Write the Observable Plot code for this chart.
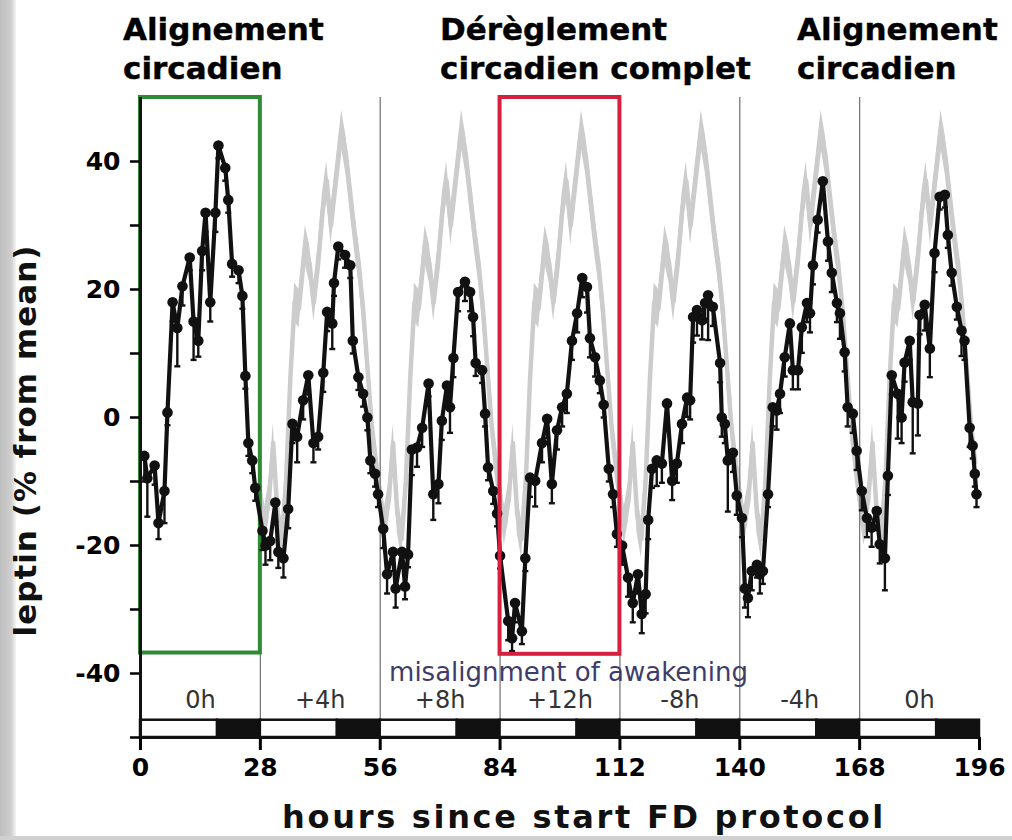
<!DOCTYPE html>
<html>
<head>
<meta charset="utf-8">
<script src="https://cdn.jsdelivr.net/npm/d3@7"></script>
<script src="https://cdn.jsdelivr.net/npm/@observablehq/plot@0.6"></script>
<style>
  html, body { margin: 0; padding: 0; background: #fff; }
  #wrap { position: relative; width: 1012px; height: 840px; overflow: hidden; background: #fff; }
  #chart { position: absolute; left: 0; top: 0; }
  .title { position: absolute; font-family: "DejaVu Sans", Verdana, sans-serif; font-weight: bold; font-size: 31px; line-height: 39px; color: #000; white-space: nowrap; -webkit-text-stroke: 0.4px #000; }
  #xlabel { position: absolute; left: 282px; top: 801px; font-family: "DejaVu Sans", sans-serif; font-weight: bold; font-size: 32px; line-height: 32px; letter-spacing: 2.7px; white-space: nowrap; color: #111; }
  #ylabel { position: absolute; width: 500px; left: -225px; top: 425px; text-align: center; font-family: "DejaVu Sans", sans-serif; font-weight: bold; font-size: 31px; line-height: 31px; letter-spacing: 1px; white-space: nowrap; color: #111; transform: rotate(-90deg); transform-origin: 50% 50%; }
  #leftstrip { position: absolute; left: 0; top: 0; width: 16px; height: 840px; background: linear-gradient(to right, #bdbdbd, #cfcfcf 70%, #f4f4f4); }
  #bottomstrip { position: absolute; left: 0; top: 836px; width: 1012px; height: 4px; background: #d0d0d0; }
</style>
</head>
<body>
<div id="wrap">
  <div id="leftstrip"></div>
  <div id="bottomstrip"></div>
  <div id="chart"></div>
  <div class="title" style="left:123px; top:10px;">Alignement<br>circadien</div>
  <div class="title" style="left:440px; top:10px;">Dérèglement<br>circadien complet</div>
  <div class="title" style="left:797px; top:10px;">Alignement<br>circadien</div>
  <div id="ylabel">leptin (% from mean)</div>
  <div id="xlabel">hours since start FD protocol</div>
</div>
<script>
// ---- data ----
const cycleStarts = [0, 28, 56, 84, 112, 140, 168];
const periodLabels = ["0h", "+4h", "+8h", "+12h", "-8h", "-4h", "0h"];
const lightsOffHour = 18;          // dark part of each 28 h cycle starts here
const separators = [28, 56, 84, 112, 140, 168];
const xTicks = [0, 28, 56, 84, 112, 140, 168, 196];
const yTicks = [-50, -40, -30, -20, -10, 0, 10, 20, 30, 40];
const yTickLabels = [-40, -20, 0, 20, 40];

// leptin, black series (hours since start, % from mean, SEM)
const hours = [
  0.9, 1.6, 3.3, 4.2, 5.6, 6.3, 7.5, 8.6, 9.8, 11.5, 12.4, 13.5, 14.4, 15.2, 16.3, 17.5, 18.2, 19.8, 20.5, 21.4, 22.9, 23.8, 24.5, 25.2, 26.1, 26.8,
  28.5, 29.2, 30.3, 31.5, 32.2, 33.4, 34.5, 35.5, 36.6, 38.0, 39.2, 40.4, 41.5, 42.7, 43.6, 44.8, 45.2, 46.2, 47.8, 49.0, 49.6, 50.9, 52.0, 53.0, 53.7, 54.8, 55.5,
  56.7, 57.6, 59.0, 59.6, 61.1, 61.8, 62.5, 63.4, 64.6, 65.8, 67.3, 68.4, 69.6, 70.4, 71.6, 72.3, 73.1, 74.2, 75.8, 77.0, 77.7, 78.3, 79.8, 80.5, 81.2, 82.4, 83.3,
  84.0, 85.9, 86.8, 87.5, 89.1, 89.9, 91.0, 92.2, 93.8, 95.0, 96.1, 97.3, 98.5, 99.6, 100.8, 102.0, 103.2, 104.3, 105.0, 106.2, 107.3, 108.2, 109.4, 110.4, 111.3,
  112.5, 113.9, 115.0, 116.2, 117.1, 118.0, 118.6, 119.5, 120.6, 121.8, 123.0, 124.2, 125.3, 126.5, 127.7, 128.4, 129.1, 130.0, 131.2, 131.9, 132.6, 133.7, 135.4, 135.8, 136.5, 137.2, 138.4, 139.3, 140.5,
  141.2, 141.9, 142.8, 144.0, 144.7, 145.4, 146.6, 147.7, 148.6, 149.4, 150.5, 151.7, 152.4, 153.6, 154.5, 155.7, 156.4, 157.1, 158.2, 159.4, 160.6, 161.5, 162.7, 163.4, 164.5, 165.2, 166.4, 167.3,
  168.5, 169.7, 170.8, 172.0, 172.7, 173.9, 174.6, 175.5, 176.9, 177.8, 178.5, 179.7, 180.4, 181.6, 182.0, 183.2, 184.4, 185.5, 186.7, 187.9, 188.6, 189.5, 190.7, 191.8, 192.5, 193.7, 194.4, 194.9, 195.3
];
const leptin = [
  -6, -9.5, -7.5, -16.5, -11.5, 0.8, 18, 14, 20.5, 25, 15, 12, 26, 32, 18, 32, 42.5, 39, 34, 24, 23, 19, 6.5, -4, -6.7, -11,
  -17.7, -20, -19.3, -13.3, -21, -22, -14.3, -1, -3, 2.7, 6.6, -4, -3, 7, 16.5, 14.7, 21, 26.7, 25.4, 23.8, 12, 6.3, 3.7, 0, -6.7, -8.8, -12,
  -17.4, -24.5, -21, -26.7, -21, -26.4, -21.4, -5, -4.7, -1.6, 5.3, -12, -10.4, -0.5, 5, 1.6, 9.3, 19.6, 21.2, 19.6, 15.7, 8.5, 7.4, 0.6, -7.8, -11.5, -15,
  -21.6, -31.8, -34.5, -29, -33.4, -22, -9.4, -9.9, -4, -0.2, -10.4, -2, 1.6, 3.7, 12, 16.3, 21.8, 20.4, 12.4, 9.4, 5.8, 2, -8, -12, -18.2,
  -20, -25, -29, -24.5, -30.7, -27.6, -16, -8, -6.7, -7.2, 2.2, -9.9, -7.2, -1, 3.1, 2.7, 15.7, 16.8, 15.2, 17.9, 19.1, 17.3, 8.5, 0, -1, -6.7, -5.5, -12.2, -15.7,
  -26.7, -28.2, -24, -23, -24.5, -24, -12, 1.6, 1.1, 3.7, 9.4, 14.7, 7.4, 7.4, 14.1, 17.9, 16.3, 23.8, 30.9, 36.9, 27.5, 22.6, 17.9, 16.3, 10.2, 1.6, 0.6, -5.2,
  -11.5, -15.7, -17.2, -14.6, -19.8, -22, -9.1, 6.6, 3.7, 0, 8.6, 12, 2.4, 2.2, 16, 17.6, 10.8, 25.7, 34.5, 34.8, 28.5, 22.6, 17.3, 13.6, 12, -1.6, -4.4, -8.8, -12
];
const sem = [
  4, 6, 3, 2.5, 5, 2, 3, 6, 3, 2, 6, 2.5, 3, 3, 3, 3, 2, 2, 2, 2, 2, 2, 2, 2, 2, 2,
  3, 3, 3, 3, 2.5, 3, 3, 3, 4, 3, 3, 3, 2, 3, 3, 4, 2, 2, 2, 2, 2, 2, 2, 2, 2, 2, 2,
  3, 3, 3, 3, 2, 2, 2, 4, 3, 3, 2, 4, 3, 3, 3, 4, 3, 3, 3, 3, 3, 2, 2, 2, 2, 2, 2,
  2, 3, 2, 3, 2, 2, 3, 4, 3, 3, 3, 3, 3, 3, 3, 3, 3, 4, 3, 3, 2, 2, 2, 2, 2,
  3, 3, 3, 3, 3, 3, 3, 3, 4, 3, 3, 3, 3, 3, 3, 3, 4, 4, 3, 3, 7, 3, 3, 3, 3, 8, 3, 3, 3,
  3, 3, 3, 2, 3, 2, 2, 3, 3, 3, 3, 3, 3, 3, 4, 3, 3, 3, 2, 2, 3, 3, 3, 4, 3, 3, 3, 3,
  3, 3, 3, 3, 3, 5, 3, 3, 7, 4, 3, 3, 8, 5, 3, 4, 4.5, 3, 2, 2, 2, 2, 2, 4, 3, 3, 2, 2, 2
];

// grey reference profile (aligned cycle), hours within a 28 h cycle
const grayHours  = [0, 1, 2, 3, 4, 5, 6, 7, 8, 9, 10.5, 11.5, 12.5, 13.5, 14.5, 15.5, 16.5, 17.5, 19, 20, 21, 22, 23, 24, 25, 26, 27];
const grayValues = [-12, -17, -13, -4, -15, -19, -10, 6, 18, 17, 27, 24, 18, 24, 32, 37, 30, 36, 45, 41, 35, 29, 24, 17, 8, -1, -7];
const grayCycleStarts = [28, 56, 84, 112, 140, 168];
const grayHalfBand = 3;

// highlighted boxes
const boxStart = [0, 84];
const boxEnd = [28, 112];
const boxBottom = [-36.8, -37];
const boxColor = ["#2f8a36", "#d6203e"];

// ---- build tables ----
const pts = hours.map((h, i) => ({h, v: leptin[i], lo: leptin[i] - sem[i]}));
const gray = grayCycleStarts.flatMap(c => grayHours.map((h, i) => ({h: c + h, v: grayValues[i]})));
const ld = cycleStarts.flatMap(s => [
  {x1: s, x2: s + lightsOffHour, dark: false},
  {x1: s + lightsOffHour, x2: s + 28, dark: true}
]);
const boxes = boxStart.map((s, i) => ({x1: s, x2: boxEnd[i], y1: boxBottom[i], y2: 50, color: boxColor[i]}));
const labels = periodLabels.map((t, i) => ({t, x: cycleStarts[i] + 14}));

const chart = Plot.plot({
  width: 1012,
  height: 840,
  marginLeft: 140,
  marginRight: 33,
  marginTop: 97,
  marginBottom: 103,
  x: {domain: [0, 196]},
  y: {domain: [-50, 50]},
  style: {background: "transparent", overflow: "visible", fontFamily: "DejaVu Sans, sans-serif"},
  marks: [
    Plot.areaY(gray, {x: "h", y1: d => d.v - grayHalfBand, y2: d => d.v + grayHalfBand, fill: "#cccccc"}),
    Plot.line(gray, {x: "h", y: "v", stroke: "#cccccc", strokeWidth: 4.5}),
    Plot.ruleX(separators, {y1: -47.3, y2: 50, stroke: "#7a7a7a", strokeWidth: 1.3}),
    Plot.rect([boxes[0]], {x1: "x1", x2: "x2", y1: "y1", y2: "y2", fill: "none", stroke: d => d.color, strokeWidth: 4}),
    Plot.ruleX(pts, {x: "h", y1: "v", y2: "lo", stroke: "#111", strokeWidth: 2.4}),
    Plot.link(pts, {x1: d => d.h - 0.7, x2: d => d.h + 0.7, y1: "lo", y2: "lo", stroke: "#111", strokeWidth: 2.4}),
    Plot.line(pts, {x: "h", y: "v", stroke: "#111", strokeWidth: 4.2}),
    Plot.dot(pts, {x: "h", y: "v", r: 5.3, fill: "#111"}),
    Plot.rect([boxes[1]], {x1: "x1", x2: "x2", y1: "y1", y2: "y2", fill: "none", stroke: d => d.color, strokeWidth: 4}),
    Plot.rect(ld, {x1: "x1", x2: "x2", y1: -50, y2: -47.3, fill: d => d.dark ? "#111" : "#fff", stroke: "#111", strokeWidth: 2.5}),
    Plot.text(labels, {x: "x", y: -44.2, text: "t", fontSize: 24, fill: "#333", fontWeight: "normal"}),
    Plot.text(["misalignment of awakening"], {x: 100, y: -39.8, text: d => d, fontSize: 26, fill: "#3d3d6b", fontWeight: "normal"}),
    Plot.axisX({ticks: xTicks, tickSize: 13, tickPadding: 8, fontSize: 25, fontWeight: "bold", strokeWidth: 3, label: null, tickFormat: d => String(d)}),
    Plot.axisY({ticks: yTicks, tickSize: 10, tickPadding: 10, fontSize: 25, fontWeight: "bold", strokeWidth: 2.5, label: null,
      tickFormat: d => yTickLabels.includes(d) ? String(d) : ""}),
    Plot.ruleX([0], {y1: -50, y2: 50, stroke: "#111", strokeWidth: 3}),
    Plot.ruleY([-50], {x1: 0, x2: 196, stroke: "#111", strokeWidth: 3})
  ]
});
document.getElementById("chart").appendChild(chart);
</script>
</body>
</html>
